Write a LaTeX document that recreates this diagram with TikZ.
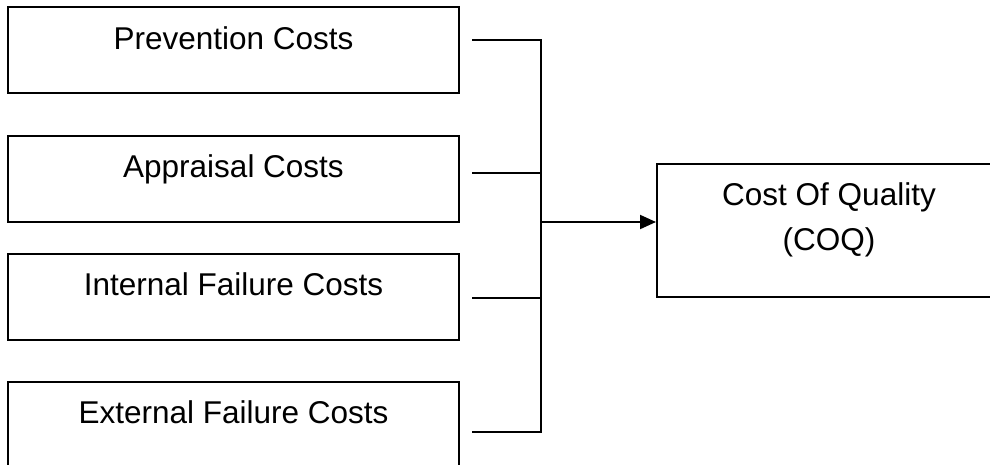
\documentclass[tikz,border=0pt]{standalone}
\usepackage{fontspec}
\setmainfont{Liberation Sans}
\usetikzlibrary{arrows.meta}
\begin{document}
\begin{tikzpicture}[x=1pt,y=-1pt,
  costbox/.style={draw=black,line width=2pt,rectangle,minimum width=451pt,minimum height=86pt,inner sep=0pt},
  coqbox/.style={draw=black,line width=2pt,rectangle,minimum width=343pt,minimum height=133pt,inner sep=0pt},
  lbl/.style={anchor=base,inner sep=0pt,font=\fontsize{31.5}{38}\selectfont},
  wire/.style={line width=2pt,line join=miter}]
\useasboundingbox (0,0) rectangle (990,464);
\begin{scope}
\clip (0,0) rectangle (990,464);
\node[costbox] (b1) at (233.5,50) {};
\node[costbox] (b2) at (233.5,179) {};
\node[costbox] (b3) at (233.5,296.5) {};
\node[costbox] (b4) at (233.5,425) {};
\node[coqbox] (coq) at (828.5,230.5) {};
\end{scope}
\node[lbl] (t1) at (233.5,49) {Prevention Costs};
\node[lbl] (t2) at (233.5,177) {Appraisal Costs};
\node[lbl] (t3) at (233.5,295) {Internal Failure Costs};
\node[lbl] (t4) at (233.5,423) {External Failure Costs};
\node[lbl] (t5) at (829,205) {Cost Of Quality};
\node[lbl] (t6) at (829,250) {(COQ)};
\coordinate (s1) at (472,40);
\coordinate (s2) at (472,173);
\coordinate (s3) at (472,298);
\coordinate (s4) at (472,432);
\coordinate (j1) at (541,40);
\coordinate (j2) at (541,173);
\coordinate (j3) at (541,298);
\coordinate (j4) at (541,432);
\coordinate (ja) at (541,222);
\draw[wire] (s1) -- (j1) -- (j4) -- (s4);
\draw[wire] (s2) -- (j2);
\draw[wire] (s3) -- (j3);
\draw[wire,-{Triangle[length=16pt,width=14pt]}] (ja) -- (coq.west |- ja);
\end{tikzpicture}
\end{document}
